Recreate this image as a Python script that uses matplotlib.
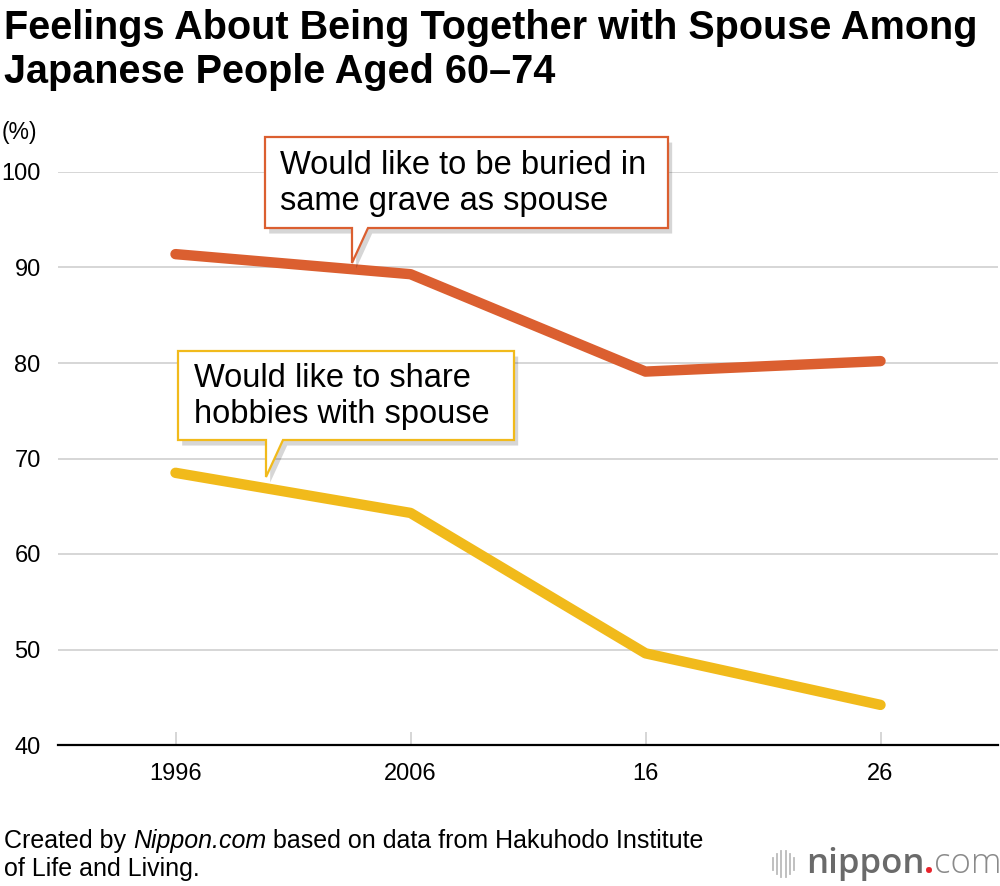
import matplotlib
matplotlib.use("Agg")
import matplotlib.pyplot as plt
from matplotlib.patches import Polygon
import matplotlib.patheffects as pe

# ---- data ----
years = ["1996", "2006", "16", "26"]
buried = [91.4, 89.3, 79.1, 80.2]
hobbies = [68.5, 64.3, 49.6, 44.2]
yticks = [40, 50, 60, 70, 80, 90, 100]

title = "Feelings About Being Together with Spouse Among\nJapanese People Aged 60\u201374"
label_buried = "Would like to be buried in\nsame grave as spouse"
label_hobbies = "Would like to share\nhobbies with spouse"

ORANGE = "#DB5F30"
YELLOW = "#F1BA1B"
FONT = "Liberation Sans"

W, H = 1000, 886
fig = plt.figure(figsize=(W / 100, H / 100), dpi=100)
plt.rcParams["font.family"] = [FONT, "DejaVu Sans"]

def fx(x):
    return x / W

def fy(y):
    return 1 - y / H

ax = fig.add_axes([fx(58), fy(745), fx(998) - fx(58), fy(172) - fy(745)])
x = list(range(len(years)))
ax.plot(x, buried, color=ORANGE, lw=7.5, solid_capstyle="round", zorder=3)
ax.plot(x, hobbies, color=YELLOW, lw=7.5, solid_capstyle="round", zorder=3)

ax.set_xlim(-0.5, 3.5)
ax.set_ylim(40, 100)
ax.set_yticks(yticks)
ax.set_yticklabels([str(v) for v in yticks], fontsize=17)
ax.set_xticks(x)
ax.set_xticklabels(years, fontsize=17)
for s in ["top", "right", "left"]:
    ax.spines[s].set_visible(False)
ax.spines["bottom"].set_color("black")
ax.spines["bottom"].set_linewidth(1.6)
ax.spines["bottom"].set_zorder(4)
ax.tick_params(axis="y", length=0, pad=12.5)
ax.tick_params(axis="x", direction="in", length=9.5, width=1.1, color="#cccccc", pad=13)
for v in yticks[1:]:
    ax.axhline(v, color="#cccccc", lw=1.1, zorder=1)

# ---- title ----
fig.text(fx(4), fy(9), title, fontsize=28.5, fontweight="bold", va="top", ha="left",
         linespacing=1.2)
fig.text(fx(2), fy(132), "(%)", fontsize=16.5, va="center", ha="left")

# ---- callouts ----
def callout(box, tail, text, color, text_x):
    x0, y0, x1, y1 = box
    tl, tr, tipx, tipy = tail
    pts = [(x0, y0), (x1, y0), (x1, y1), (tr, y1), (tipx, tipy), (tl, y1), (x0, y1)]
    pts = [(fx(a), fy(b)) for a, b in pts]
    poly = Polygon(pts, closed=True, transform=fig.transFigure, facecolor="white",
                   edgecolor=color, lw=1.6, zorder=10, joinstyle="miter")
    poly.set_path_effects([pe.SimplePatchShadow(offset=(3, -4), shadow_rgbFace="black", alpha=0.16),
                           pe.Normal()])
    fig.add_artist(poly)
    fig.text(fx(text_x), fy((y0 + y1) / 2 + 1), text, fontsize=23.5, va="center", ha="left",
             linespacing=1.22, zorder=11)

callout((265, 137, 668, 228), (352, 368, 352, 263), label_buried, ORANGE, 280)
callout((178, 351, 514, 440), (266, 283, 266, 477), label_hobbies, YELLOW, 194)

# ---- footer ----
fig.canvas.draw()
r = fig.canvas.get_renderer()

def seq(pieces, x, y, **kw):
    cx = x
    for txt, style in pieces:
        t = fig.text(fx(cx), fy(y), txt, va="baseline", ha="left", style=style, **kw)
        bb = t.get_window_extent(r)
        cx += bb.width
    return cx

seq([("Created by ", "normal"), ("Nippon.com", "italic"),
     (" based on data from Hakuhodo Institute", "normal")], 4, 848, fontsize=18)
fig.text(fx(4), fy(876), "of Life and Living.", va="baseline", ha="left", fontsize=18)

# ---- logo ----
bar_h = [0.45, 0.75, 1.0, 1.0, 0.75, 0.45]
bar_x0 = 773
for i, h in enumerate(bar_h):
    xx = fx(bar_x0 + i * 4.2)
    fig.add_artist(plt.Line2D([xx, xx], [fy(864 - 13 * h), fy(864 + 13 * h)],
                              transform=fig.transFigure, color="#bbbbbb", lw=1.3))
cx = 806
for txt, col, wt in [("nippon", "#6a6a6a", "semibold"), (".", "#e8222b", "bold"), ("com", "#8a8a8a", "light")]:
    t = fig.text(fx(cx), fy(873), txt, fontsize=25, color=col, fontweight=wt,
                 family="Open Sans", va="baseline", ha="left")
    cx += t.get_window_extent(r).width

fig.savefig("out.png", dpi=100, facecolor="white")
